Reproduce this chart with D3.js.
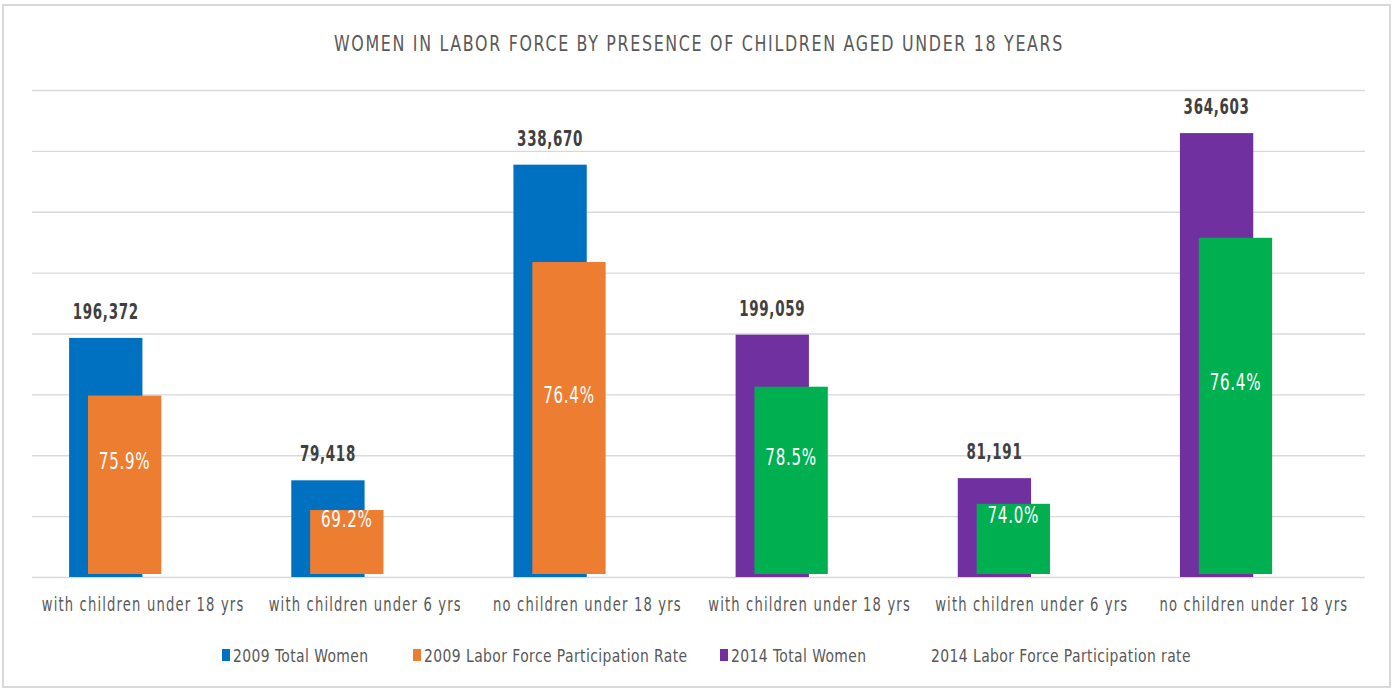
<!DOCTYPE html>
<html>
<head>
<meta charset="utf-8">
<script src="https://cdn.jsdelivr.net/npm/d3@7"></script>
<style>
  body { margin: 0; background: #fff; }
  svg text { font-family: "DejaVu Sans Condensed", "DejaVu Sans", sans-serif; }
</style>
</head>
<body>
<div id="chart"></div>
<script>
// chart data
var categories = ["with children under 18 yrs", "with children under 6 yrs", "no children under 18 yrs",
                  "with children under 18 yrs", "with children under 6 yrs", "no children under 18 yrs"];
var total2009 = [196372, 79418, 338670, null, null, null];
var labor2009 = [149000, 55000, 258700, null, null, null];   // bar height
var rate2009  = ["75.9%", "69.2%", "76.4%", null, null, null];
var total2014 = [null, null, null, 199059, 81191, 364603];
var labor2014 = [null, null, null, 156300, 60100, 278600];
var rate2014  = [null, null, null, "78.5%", "74.0%", "76.4%"];
var yTicks = [0, 50000, 100000, 150000, 200000, 250000, 300000, 350000, 400000];
var legendLabels = ["2009 Total Women", "2009 Labor Force Participation Rate", "2014 Total Women", "2014 Labor Force Participation rate"];

var W = 1393, H = 690;
var margin = {top: 90, right: 28, bottom: 113, left: 32},
    width = W - margin.left - margin.right,
    height = H - margin.top - margin.bottom;

// narrow text: place at (px, py) and squeeze it horizontally by k
function narrow(sel, px, py, k) {
  sel.attr("x", 0).attr("y", 0)
     .attr("transform", "translate(" + px + "," + py + ") scale(" + k + ",1)");
}

var svg = d3.select("#chart").append("svg")
    .attr("width", W)
    .attr("height", H);

// frame
svg.append("rect")
    .attr("x", 3).attr("y", 5)
    .attr("width", W - 6).attr("height", H - 8)
    .attr("fill", "#fff")
    .attr("stroke", "#d9d9d9")
    .attr("stroke-width", 2);

svg.append("text")
    .attr("text-anchor", "middle")
    .attr("fill", "#595959")
    .attr("font-size", 21)
    .attr("letter-spacing", 2)
    .text("WOMEN IN LABOR FORCE BY PRESENCE OF CHILDREN AGED UNDER 18 YEARS")
    .call(narrow, 699, 51, 0.84);

var g = svg.append("g")
    .attr("transform", "translate(" + margin.left + "," + margin.top + ")");

var x = d3.scaleBand().domain(d3.range(categories.length)).range([0, width]);
var y = d3.scaleLinear().domain([0, 400000]).range([height, 0]);

// gridlines
g.append("g")
    .call(d3.axisLeft(y).tickValues(yTicks).tickSize(-width).tickFormat(""))
    .call(function(a) {
      a.select(".domain").remove();
      a.selectAll(".tick line").attr("stroke", "#d9d9d9").attr("stroke-width", 1.3);
    });

var bw = x.bandwidth();
var barW = bw * 0.33;
function cx(i) { return x(i) + bw / 2; }

function drawTotal(vals, color) {
  vals.forEach(function(v, i) {
    if (v == null) return;
    var left = cx(i) - bw * 0.333;
    g.append("rect")
        .attr("x", left)
        .attr("y", y(v))
        .attr("width", barW)
        .attr("height", y(0) - y(v))
        .attr("fill", color);
    g.append("text")
        .attr("text-anchor", "middle")
        .attr("fill", "#404040")
        .attr("font-size", 22)
        .attr("font-weight", "bold")
        .attr("letter-spacing", 1)
        .text(d3.format(",")(v))
        .call(narrow, left + barW / 2, y(v) - 19, 0.68);
  });
}

function drawLabor(vals, labels, color) {
  vals.forEach(function(v, i) {
    if (v == null) return;
    var left = cx(i) - bw * 0.248;
    g.append("rect")
        .attr("x", left)
        .attr("y", y(v))
        .attr("width", barW)
        .attr("height", y(0) - y(v) - 3)
        .attr("fill", color);
    g.append("text")
        .attr("text-anchor", "middle")
        .attr("fill", "#fff")
        .attr("font-size", 23)
        .attr("letter-spacing", 1)
        .text(labels[i])
        .call(narrow, left + barW / 2, (y(v) + y(0)) / 2 - 17, 0.73);
  });
}

drawTotal(total2009, "#0070c0");
drawLabor(labor2009, rate2009, "#ed7d31");
drawTotal(total2014, "#7030a0");
drawLabor(labor2014, rate2014, "#00b050");

// category labels
categories.forEach(function(d, i) {
  g.append("text")
      .attr("text-anchor", "middle")
      .attr("fill", "#595959")
      .attr("font-size", 20)
      .attr("letter-spacing", 1.6)
      .text(d)
      .call(narrow, cx(i), height + 34, 0.73);
});

// legend
var legendColors = ["#0070c0", "#ed7d31", "#7030a0", "none"];
var legendX = [222, 413, 720, 920];
var lg = svg.append("g");
legendLabels.forEach(function(t, i) {
  lg.append("rect")
      .attr("x", legendX[i]).attr("y", 649)
      .attr("width", 8).attr("height", 12)
      .attr("fill", legendColors[i]);
  lg.append("text")
      .attr("fill", "#595959")
      .attr("font-size", 18)
      .attr("letter-spacing", 0.5)
      .text(t)
      .call(narrow, legendX[i] + 11, 662, 0.86);
});
</script>
</body>
</html>
